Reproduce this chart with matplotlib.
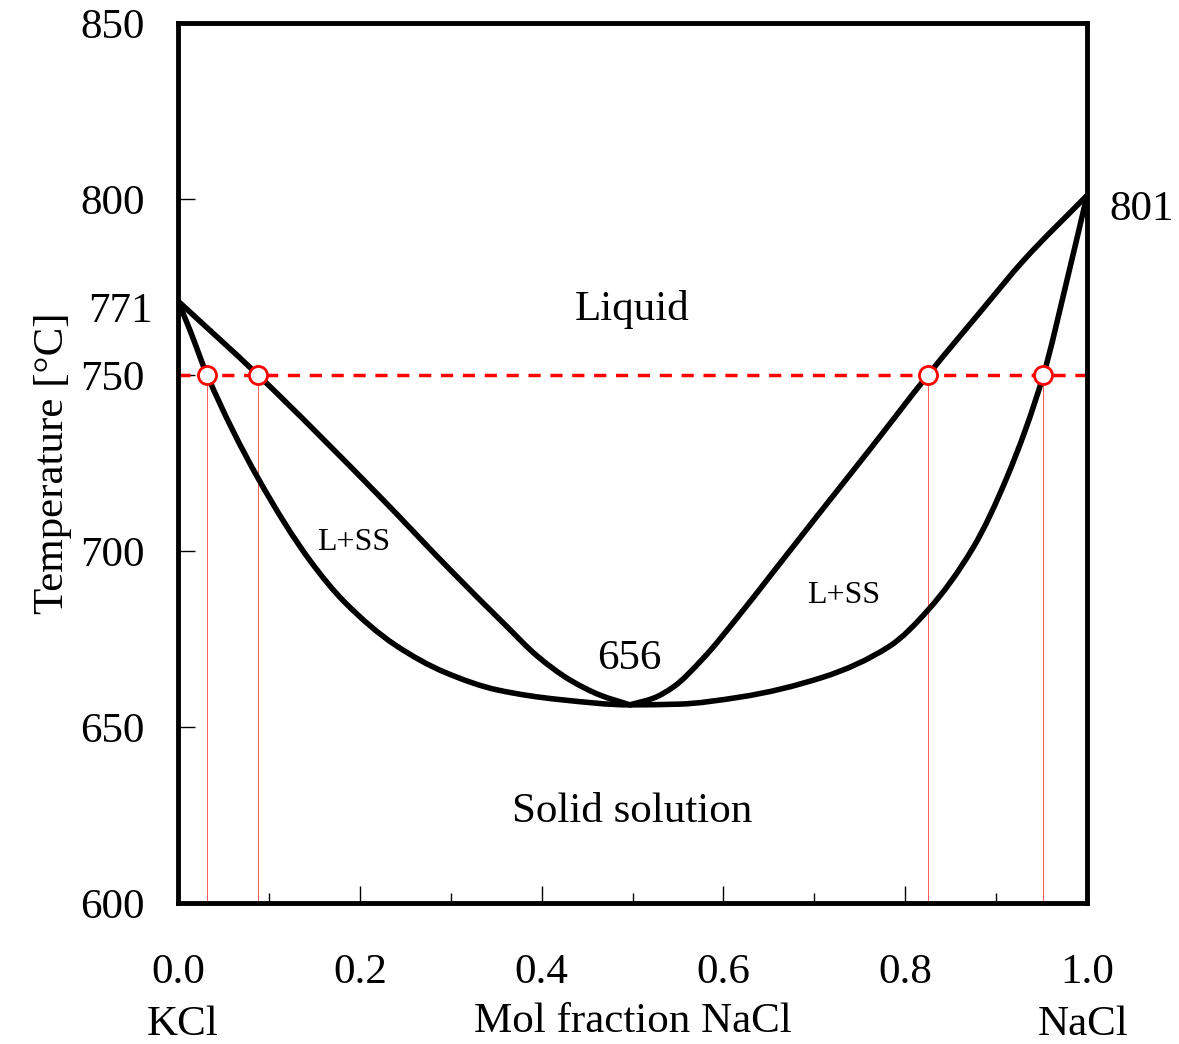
import matplotlib
matplotlib.use("Agg")
import matplotlib.pyplot as plt
import numpy as np
from matplotlib.path import Path
from matplotlib.patches import PathPatch
from matplotlib.ticker import MultipleLocator

plt.rcParams["font.family"] = ["Liberation Serif", "DejaVu Serif"]

# KCl-NaCl binary: liquidus (two branches meeting at the minimum) and solidus,
# read along mol fraction NaCl
liq_left_x = [0.0, 0.088, 0.22, 0.30, 0.36, 0.395, 0.431, 0.464, 0.497]
liq_left_T = [771, 750, 716.0, 694.5, 679.0, 670.2, 663.4, 659.1, 656.3]
liq_right_x = [0.497, 0.523, 0.545, 0.578, 0.615, 0.651, 0.699, 0.76, 0.825,
               0.886, 0.93, 1.0]
liq_right_T = [656.3, 658.2, 661.4, 669.6, 681.0, 692.8, 708.6, 728.5, 750,
               769.0, 782.5, 801]

sol_x = [0.0, 0.013, 0.032, 0.088, 0.146, 0.184, 0.239, 0.294, 0.352, 0.42,
         0.497, 0.55, 0.618, 0.71, 0.783, 0.825, 0.875, 0.912, 0.952, 0.978, 1.0]
sol_T = [771, 762.8, 750, 720.7, 697.0, 685.3, 673.3, 665.5, 660.5, 657.8,
         656.3, 656.5, 658.5, 664.2, 673.0, 683.2, 701.1, 721.0, 750, 777, 801]

# isotherm at 750 C and where it crosses the curves
iso_T = 750
iso_x = [0.032, 0.088, 0.825, 0.952]

x_ticks = [0.0, 0.2, 0.4, 0.6, 0.8, 1.0]
y_ticks = [600, 650, 700, 750, 800, 850]


def smooth_path(xs, ys):
    # shape-preserving cubic (pchip slopes) through the points, as Bezier segments
    x = np.asarray(xs, float)
    y = np.asarray(ys, float)
    h = np.diff(x)
    d = np.diff(y) / h
    m = np.empty_like(y)
    m[0], m[-1] = d[0], d[-1]
    for k in range(1, len(x) - 1):
        if d[k - 1] * d[k] <= 0:
            m[k] = 0.0
        else:
            w1 = 2 * h[k] + h[k - 1]
            w2 = h[k] + 2 * h[k - 1]
            m[k] = (w1 + w2) / (w1 / d[k - 1] + w2 / d[k])
    verts = [(x[0], y[0])]
    codes = [Path.MOVETO]
    for k in range(len(x) - 1):
        verts += [(x[k] + h[k] / 3, y[k] + m[k] * h[k] / 3),
                  (x[k + 1] - h[k] / 3, y[k + 1] - m[k + 1] * h[k] / 3),
                  (x[k + 1], y[k + 1])]
        codes += [Path.CURVE4] * 3
    return Path(verts, codes)


fig = plt.figure(figsize=(11.79, 10.44), dpi=100)
ax = fig.add_axes([0.151, 0.135, 0.771, 0.843])

for xs, ys in [(liq_left_x, liq_left_T), (liq_right_x, liq_right_T), (sol_x, sol_T)]:
    ax.add_patch(PathPatch(smooth_path(xs, ys), fill=False, edgecolor="black",
                           lw=4.0, joinstyle="round", capstyle="round", zorder=3))

for xv in iso_x:
    ax.plot([xv, xv], [600, iso_T], color="red", lw=0.6, alpha=0.75, zorder=2)
ax.plot([0, 1], [iso_T, iso_T], color="red", lw=2.5, ls=(0, (3.5, 2.8)), zorder=2)
ax.plot(iso_x, [iso_T] * len(iso_x), "o", ms=13, mfc="white", mec="red",
        mew=2.0, ls="none", zorder=4, clip_on=False)

ax.set_xlim(0, 1)
ax.set_ylim(600, 850)
ax.set_xticks(x_ticks)
ax.set_xticklabels([f"{v:.1f}" for v in x_ticks])
ax.xaxis.set_minor_locator(MultipleLocator(0.1))
ax.set_yticks(y_ticks)
ax.tick_params(axis="both", which="major", direction="in", length=12, width=1,
               labelsize=31)
ax.tick_params(axis="x", which="major", pad=36)
ax.tick_params(axis="y", which="major", pad=24)
ax.tick_params(axis="x", which="minor", direction="in", length=7, width=1)
for sp in ax.spines.values():
    sp.set_linewidth(3.5)

ax.set_xlabel("Mol fraction NaCl", fontsize=31, labelpad=8)
ax.set_ylabel("Temperature [°C]", fontsize=31, labelpad=6)

ax.text(0.5, 768.5, "Liquid", fontsize=31, ha="center", va="center")
ax.text(0.5, 626, "Solid solution", fontsize=31, ha="center", va="center")
ax.text(0.193, 702.5, "L+SS", fontsize=23, ha="center", va="center")
ax.text(0.732, 687.5, "L+SS", fontsize=23, ha="center", va="center")
ax.text(0.497, 669.5, "656", fontsize=31, ha="center", va="center")
ax.text(-0.028, 768, "771", fontsize=31, ha="right", va="center", clip_on=False)
ax.text(1.025, 797, "801", fontsize=31, ha="left", va="center", clip_on=False)

fig.text(183 / 1179, 1 - 1025 / 1044, "KCl", fontsize=31, ha="center", va="center")
fig.text(1083 / 1179, 1 - 1025 / 1044, "NaCl", fontsize=31, ha="center", va="center")

fig.savefig("out.png", dpi=100)
